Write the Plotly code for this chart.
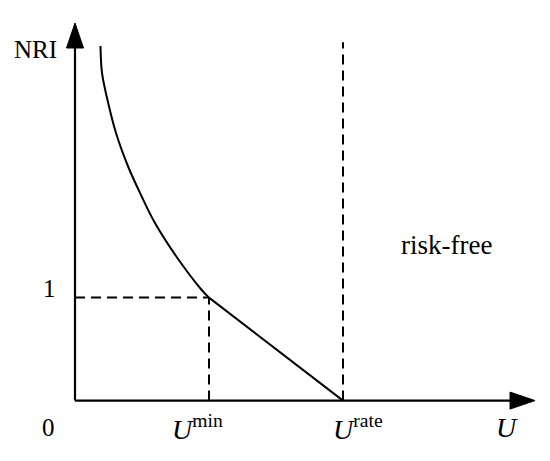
import plotly.graph_objects as go

# Curve (NRI vs U); U in units of U_min, NRI in units of 1
curve_u = [0.1903, 0.2015, 0.2425, 0.3060, 0.3978, 0.4925, 0.5970, 0.7590, 0.9455, 1.0]
curve_nri = [3.443, 3.181, 2.918, 2.598, 2.268, 1.996, 1.724, 1.394, 1.074, 1.0]
# Linear part from (U_min, 1) to (U_rate, 0)
line_u = [1.0, 2.0]
line_nri = [1.0, 0.0]
u_min = 1.0
u_rate = 2.0
nri_one = 1.0
dash_top = 3.48
x_tip = 3.433
y_tip = 3.666

FONT = "Liberation Serif"
BLACK = "#000000"

fig = go.Figure()
fig.add_trace(go.Scatter(x=curve_u, y=curve_nri, mode="lines",
                         line=dict(color=BLACK, width=2, shape="spline", smoothing=1.0),
                         hoverinfo="skip", showlegend=False))
fig.add_trace(go.Scatter(x=line_u, y=line_nri, mode="lines",
                         line=dict(color=BLACK, width=2), hoverinfo="skip", showlegend=False))

dash = "10px,6px"
shapes = [
    # axes
    dict(type="line", x0=0, y0=0, x1=x_tip - 0.05, y1=0, line=dict(color=BLACK, width=2.2)),
    dict(type="line", x0=0, y0=0, x1=0, y1=y_tip - 0.1, line=dict(color=BLACK, width=2.2)),
    # arrow heads
    dict(type="path", xsizemode="pixel", ysizemode="pixel", xanchor=x_tip, yanchor=0,
         path="M0,0 L-25,8.5 L-25,-8.5 Z", fillcolor=BLACK, line=dict(color=BLACK, width=1)),
    dict(type="path", xsizemode="pixel", ysizemode="pixel", xanchor=0, yanchor=y_tip,
         path="M0,0 L-8.5,-25 L8.5,-25 Z", fillcolor=BLACK, line=dict(color=BLACK, width=1)),
    # dashed guides
    dict(type="line", x0=0, y0=nri_one, x1=u_min, y1=nri_one, line=dict(color=BLACK, width=2, dash=dash)),
    dict(type="line", x0=u_min, y0=0, x1=u_min, y1=nri_one, line=dict(color=BLACK, width=2, dash=dash)),
    dict(type="line", x0=u_rate, y0=0, x1=u_rate, y1=dash_top, line=dict(color=BLACK, width=2, dash=dash)),
]

fs = 25
def ann(text, x, y, xs=0, ys=0, size=fs):
    return dict(text=text, x=x, y=y, xref="x", yref="y", xshift=xs, yshift=ys,
                showarrow=False, font=dict(family=FONT, size=size, color=BLACK),
                xanchor="center", yanchor="middle")

annotations = [
    ann("NRI", 0, y_tip, -40, -26),
    ann("1", 0, nri_one, -26, 9),
    ann("0", 0, 0, -27, -27),
    ann("<i>U</i><sup>min</sup>", u_min, 0, -12, -27, 28),
    ann("<i>U</i><sup>rate</sup>", u_rate, 0, 15, -27, 28),
    ann("<i>U</i>", x_tip, 0, -28, -27, 28),
    ann("risk-free", 2.77, 1.51, 0, 0, 27),
]

# The page body has an 8px margin, so the plot area is offset by 8px on screen
fig.update_layout(
    width=550, height=461,
    margin=dict(l=0, r=0, t=0, b=0),
    paper_bgcolor="white", plot_bgcolor="white",
    xaxis=dict(range=[-67 / 134, (550 - 67) / 134], visible=False, fixedrange=True),
    yaxis=dict(range=[(392.6 - 461) / 103, 392.6 / 103], visible=False, fixedrange=True),
    shapes=shapes, annotations=annotations, showlegend=False,
)
fig.write_html("out.html")
